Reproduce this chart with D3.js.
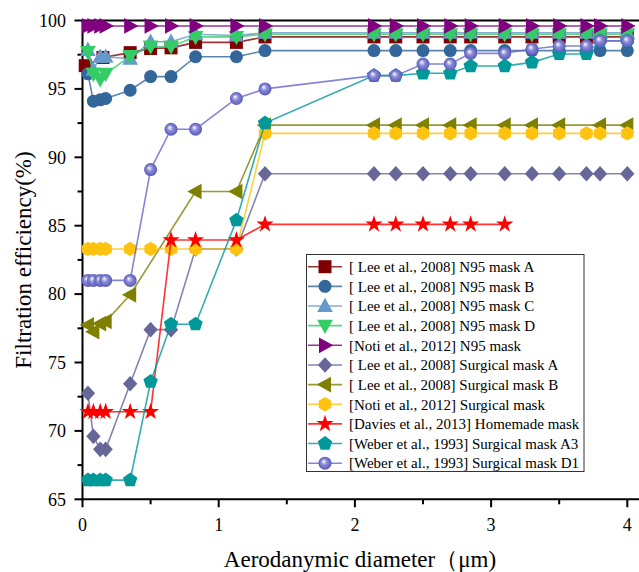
<!DOCTYPE html>
<html><head><meta charset="utf-8">
<script src="https://cdn.jsdelivr.net/npm/d3@7"></script>
<style>
body{margin:0;background:#fff;}
svg{display:block;}
text{font-family:"Liberation Serif","Times New Roman",serif;fill:#000;}
</style></head>
<body>
<svg id="chart" width="639" height="572"></svg>
<script>
// ---------------- data ----------------
const xLee   = [0.04, 0.08, 0.13, 0.17, 0.35, 0.5, 0.65, 0.83, 1.13, 1.34];
const xRight = [2.14, 2.3, 2.5, 2.7, 2.85, 3.1, 3.3, 3.5, 3.7, 3.8, 4.0];

const xN95A = [0.02, 0.15, 0.35, 0.5, 0.65, 0.83, 1.13, 1.34].concat(xRight);
const yN95A = [96.7, 97.3, 97.65, 97.95, 98.0, 98.4, 98.4, 98.8, 98.8, 98.8, 98.8, 98.8, 98.8, 98.8, 98.8, 98.8, 98.8, 98.8, 98.8];

const xN95B = xLee.concat(xRight);
const yN95B = [96.1, 94.1, 94.2, 94.3, 94.9, 95.9, 95.9, 97.35, 97.35, 97.8, 97.8, 97.8, 97.8, 97.8, 97.8, 97.8, 97.8, 97.8, 97.8, 97.8, 97.8];

const xN95C = xLee.concat(xRight);
const yN95C = [97.85, 96.4, 97.35, 97.35, 97.2, 98.45, 98.45, 99.0, 98.9, 99.1, 99.1, 99.1, 99.1, 99.1, 99.1, 99.1, 99.1, 99.1, 99.1, 99.1, 99.1];

const xN95D = xLee.concat(xRight);
const yN95D = [97.7, 96.1, 95.7, 96.1, 97.4, 98.1, 98.1, 98.8, 98.8, 99.0, 99.0, 99.0, 99.0, 99.0, 99.0, 99.0, 99.0, 99.0, 99.0, 99.0, 99.0];

const xNotiN95 = xLee.concat(xRight);
const yNotiN95 = [99.6, 99.6, 99.6, 99.6, 99.6, 99.6, 99.6, 99.6, 99.6, 99.6, 99.6, 99.6, 99.6, 99.6, 99.6, 99.6, 99.6, 99.6, 99.6, 99.6, 99.6];

const xSurgA = xLee.concat(xRight);
const ySurgA = [72.75, 69.6, 68.65, 68.65, 73.45, 77.4, 77.4, 83.3, 83.3, 88.8, 88.8, 88.8, 88.8, 88.8, 88.8, 88.8, 88.8, 88.8, 88.8, 88.8, 88.8];

const xSurgB = [0.04, 0.08, 0.13, 0.17, 0.35, 0.83, 1.13, 1.34, 2.14, 2.3, 2.5, 2.7, 2.85, 3.1, 3.3, 3.5, 3.8, 4.0];
const ySurgB = [77.75, 77.25, 77.85, 78.0, 79.95, 87.5, 87.5, 92.35, 92.35, 92.35, 92.35, 92.35, 92.35, 92.35, 92.35, 92.35, 92.35, 92.35];

const xNotiSurg = xLee.concat(xRight);
const yNotiSurg = [83.3, 83.3, 83.3, 83.3, 83.3, 83.3, 83.3, 83.3, 83.3, 91.75, 91.75, 91.75, 91.75, 91.75, 91.75, 91.75, 91.75, 91.75, 91.75, 91.75, 91.75];

const xDavies = [0.04, 0.08, 0.13, 0.17, 0.35, 0.5, 0.65, 0.83, 1.13, 1.34, 2.14, 2.3, 2.5, 2.7, 2.85, 3.1];
const yDavies = [71.4, 71.4, 71.4, 71.4, 71.4, 71.4, 83.95, 83.95, 83.95, 85.1, 85.1, 85.1, 85.1, 85.1, 85.1, 85.1];

const xWeberA3 = xLee.concat(xRight);
const yWeberA3 = [66.4, 66.4, 66.4, 66.4, 66.4, 73.6, 77.8, 77.8, 85.4, 92.5, 95.97, 95.97, 96.14, 96.14, 96.67, 96.67, 96.94, 97.55, 97.55, 98.5, 98.5];

const xWeberD1 = xLee.concat(xRight);
const yWeberD1 = [81.0, 81.0, 81.0, 81.0, 81.0, 89.1, 92.05, 92.05, 94.3, 95.0, 95.97, 95.97, 96.82, 96.82, 97.6, 97.6, 97.92, 98.14, 98.14, 98.52, 98.52];

const seriesNames = [
  "[ Lee et al., 2008] N95 mask A",
  "[ Lee et al., 2008] N95 mask B",
  "[ Lee et al., 2008] N95 mask C",
  "[ Lee et al., 2008] N95 mask D",
  "[Noti et al., 2012] N95 mask",
  "[ Lee et al., 2008] Surgical mask A",
  "[ Lee et al., 2008] Surgical mask B",
  "[Noti et al., 2012] Surgical mask",
  "[Davies et al., 2013] Homemade mask",
  "[Weber et al., 1993] Surgical mask A3",
  "[Weber et al., 1993] Surgical mask D1"
];
const seriesX = [xN95A, xN95B, xN95C, xN95D, xNotiN95, xSurgA, xSurgB, xNotiSurg, xDavies, xWeberA3, xWeberD1];
const seriesY = [yN95A, yN95B, yN95C, yN95D, yNotiN95, ySurgA, ySurgB, yNotiSurg, yDavies, yWeberA3, yWeberD1];
const seriesColors = ["#800000", "#336699", "#6699CC", "#33CC66", "#800080", "#666699", "#808000", "#FFC20E", "#FF0000", "#009999", "#6666CC"];
const seriesSymbols = ["square", "circle", "triUp", "triDown", "triRight", "diamond", "triLeft", "hexagon", "star", "pentagon", "sphere"];

const xTicks = [0, 1, 2, 3, 4];
const xMinor = [0.5, 1.5, 2.5, 3.5];
const yTicks = [65, 70, 75, 80, 85, 90, 95, 100];
const yMinor = [67.5, 72.5, 77.5, 82.5, 87.5, 92.5, 97.5];

// ---------------- drawing ----------------
const svg = d3.select("#chart");
const x = d3.scaleLinear().domain([0, 4.1]).range([82.5, 82.5 + 4.1 * 136.2]);
const y = d3.scaleLinear().domain([65, 100]).range([499.3, 20.5]);

const defs = svg.append("defs");
const grad = defs.append("radialGradient").attr("id", "sphere").attr("cx", "50%").attr("cy", "50%").attr("r", "50%").attr("fx", "38%").attr("fy", "35%");
grad.append("stop").attr("offset", "0%").attr("stop-color", "#ffffff");
grad.append("stop").attr("offset", "45%").attr("stop-color", "#8a8ad8");
grad.append("stop").attr("offset", "100%").attr("stop-color", "#5a5ab8");

function poly(pts) { return "M" + pts.map(p => p[0].toFixed(2) + "," + p[1].toFixed(2)).join("L") + "Z"; }
function regular(n, r, rot) {
  const pts = [];
  for (let i = 0; i < n; i++) { const a = rot + i * 2 * Math.PI / n; pts.push([r * Math.cos(a), r * Math.sin(a)]); }
  return poly(pts);
}
function tri(s, ang) {
  const base = [[0, -s * 0.58], [s * 0.55, s * 0.42], [-s * 0.55, s * 0.42]];
  const c = Math.cos(ang), sn = Math.sin(ang);
  return poly(base.map(p => [p[0] * c - p[1] * sn, p[0] * sn + p[1] * c]));
}
function symbolPath(kind, s) {
  switch (kind) {
    case "square": return poly([[-s / 2, -s / 2], [s / 2, -s / 2], [s / 2, s / 2], [-s / 2, s / 2]]);
    case "circle": case "sphere": return d3.symbol(d3.symbolCircle, Math.PI * (s / 2) * (s / 2))();
    case "triUp": return tri(s * 1.1, 0);
    case "triDown": return tri(s * 1.1, Math.PI);
    case "triRight": return tri(s * 1.1, Math.PI / 2);
    case "triLeft": return tri(s * 1.1, -Math.PI / 2);
    case "diamond": return poly([[0, -s * 0.6], [s * 0.55, 0], [0, s * 0.6], [-s * 0.55, 0]]);
    case "hexagon": return regular(6, s * 0.55, -Math.PI / 2);
    case "pentagon": return regular(5, s * 0.58, -Math.PI / 2);
    case "star": return d3.symbol(d3.symbolStar, s * s * 0.55)();
  }
}
const markerSize = 13;

// frame & axes
svg.append("line").attr("x1", x(0)).attr("x2", 639).attr("y1", y(100)).attr("y2", y(100)).attr("stroke", "#000").attr("stroke-width", 2);
svg.append("line").attr("x1", x(0)).attr("x2", x(0)).attr("y1", y(100) - 1).attr("y2", y(65) + 1).attr("stroke", "#000").attr("stroke-width", 2);
svg.append("line").attr("x1", x(0) - 1).attr("x2", 639).attr("y1", y(65)).attr("y2", y(65)).attr("stroke", "#000").attr("stroke-width", 2);

const xAxis = svg.append("g");
xAxis.selectAll(".maj").data(xTicks).enter().append("line")
  .attr("x1", d => x(d)).attr("x2", d => x(d)).attr("y1", y(65)).attr("y2", y(65) + 8).attr("stroke", "#000").attr("stroke-width", 2);
xAxis.selectAll(".min").data(xMinor).enter().append("line")
  .attr("x1", d => x(d)).attr("x2", d => x(d)).attr("y1", y(65)).attr("y2", y(65) + 5).attr("stroke", "#000").attr("stroke-width", 2);
xAxis.selectAll("text").data(xTicks).enter().append("text")
  .attr("x", d => x(d)).attr("y", 531).attr("text-anchor", "middle").attr("font-size", 18).text(d => d);

const yAxis = svg.append("g");
yAxis.selectAll(".maj").data(yTicks).enter().append("line")
  .attr("x1", x(0) - 8).attr("x2", x(0)).attr("y1", d => y(d)).attr("y2", d => y(d)).attr("stroke", "#000").attr("stroke-width", 2);
yAxis.selectAll(".min").data(yMinor).enter().append("line")
  .attr("x1", x(0) - 5).attr("x2", x(0)).attr("y1", d => y(d)).attr("y2", d => y(d)).attr("stroke", "#000").attr("stroke-width", 2);
yAxis.selectAll("text").data(yTicks).enter().append("text")
  .attr("x", 66).attr("y", d => y(d)).attr("dy", "0.35em").attr("text-anchor", "end").attr("font-size", 18).text(d => d);

// axis titles
svg.append("text").attr("transform", "translate(31," + 260 + ") rotate(-90)").attr("text-anchor", "middle")
  .attr("font-size", 23).text("Filtration efficiency(%)");
svg.append("text").attr("x", 360).attr("y", 567).attr("text-anchor", "middle").attr("font-size", 23)
  .text("Aerodanymic diameter（μm)");

// series
const line = d3.line().x(d => x(d[0])).y(d => y(d[1]));
seriesNames.forEach((name, i) => {
  const pts = seriesX[i].map((xv, j) => [xv, seriesY[i][j]]);
  const g = svg.append("g");
  g.append("path").attr("d", line(pts)).attr("fill", "none").attr("stroke", seriesColors[i])
    .attr("stroke-width", 1.6).attr("stroke-opacity", 0.8);
  const fill = seriesSymbols[i] === "sphere" ? "url(#sphere)" : seriesColors[i];
  g.selectAll(".m").data(pts).enter().append("path")
    .attr("transform", d => "translate(" + x(d[0]) + "," + y(d[1]) + ")")
    .attr("d", symbolPath(seriesSymbols[i], markerSize))
    .attr("fill", fill);
});

// legend
const lg = svg.append("g");
lg.append("rect").attr("x", 306.5).attr("y", 254.5).attr("width", 277.5).attr("height", 217).attr("fill", "#fff").attr("stroke", "#333").attr("stroke-width", 1);
seriesNames.forEach((name, i) => {
  const cy = 266.7 + i * 19.65;
  lg.append("line").attr("x1", 308).attr("x2", 342).attr("y1", cy).attr("y2", cy).attr("stroke", seriesColors[i]).attr("stroke-width", 1.6).attr("stroke-opacity", 0.8);
  lg.append("path").attr("transform", "translate(325," + cy + ")").attr("d", symbolPath(seriesSymbols[i], markerSize))
    .attr("fill", seriesSymbols[i] === "sphere" ? "url(#sphere)" : seriesColors[i]);
  lg.append("text").attr("x", 349).attr("y", cy).attr("dy", "0.35em").attr("font-size", 15).text(name);
});
</script>
</body></html>
